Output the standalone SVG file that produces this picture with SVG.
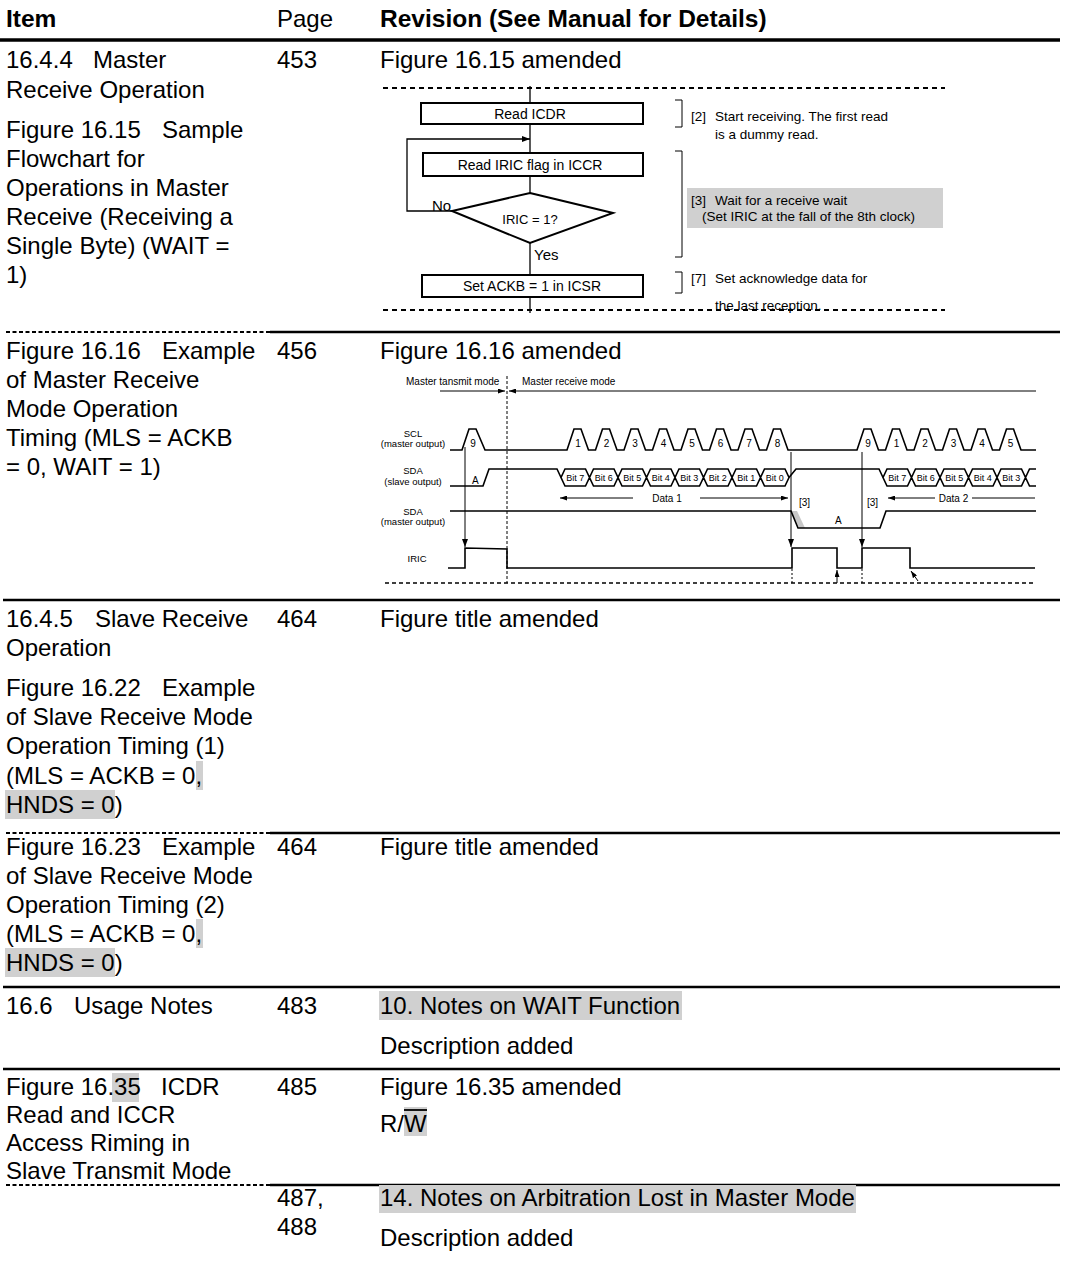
<svg xmlns="http://www.w3.org/2000/svg" width="1069" height="1278" viewBox="0 0 1069 1278">
<defs>
<marker id="ah" markerWidth="8" markerHeight="6" refX="8" refY="3" orient="auto" markerUnits="userSpaceOnUse"><path d="M0,0 L8,3 L0,6 Z" fill="#000"/></marker>
<marker id="ahs" markerWidth="7" markerHeight="5" refX="7" refY="2.5" orient="auto" markerUnits="userSpaceOnUse"><path d="M0,0 L7,2.5 L0,5 Z" fill="#000"/></marker>
<style>
.t{font-family:"Liberation Sans",Arial,sans-serif;font-size:24px;fill:#000}
.b{font-weight:bold}
.hl{fill:#d0d0d0}
.sep{stroke:#000;stroke-width:2.5}
.thick{stroke:#000;stroke-width:3.5}
.dsep{stroke:#000;stroke-width:2;stroke-dasharray:4 2.5}
.fb{fill:#fff;stroke:#000;stroke-width:2}
.ft{font-family:"Liberation Sans",Arial,sans-serif;font-size:14px;text-anchor:middle}
.fl{font-family:"Liberation Sans",Arial,sans-serif;font-size:15px}
.an{font-family:"Liberation Sans",Arial,sans-serif;font-size:13.5px}
.ln{stroke:#000;stroke-width:1.3;fill:none}
.fd{stroke:#000;stroke-width:2;stroke-dasharray:5 4}
.w{stroke:#000;stroke-width:1.6;fill:none}
.tl{font-family:"Liberation Sans",Arial,sans-serif;font-size:10px}
.tm{font-family:"Liberation Sans",Arial,sans-serif;font-size:9.5px;text-anchor:middle}
.num{font-family:"Liberation Sans",Arial,sans-serif;font-size:10px;text-anchor:middle}
.bit{font-family:"Liberation Sans",Arial,sans-serif;font-size:9px;text-anchor:middle}
.thin{stroke:#000;stroke-width:1;fill:none}
.td{stroke:#000;stroke-width:1.3;stroke-dasharray:4 3;fill:none}
</style>
</defs>
<rect width="1069" height="1278" fill="#fff"/>

<!-- table rules -->
<g id="table-rules">
<line class="thick" x1="0" y1="40" x2="1060" y2="40"/>
<line class="dsep" x1="6" y1="332" x2="270" y2="332"/><line class="sep" x1="270" y1="332" x2="1060" y2="332"/>
<line class="sep" x1="3" y1="600" x2="1060" y2="600"/>
<line class="dsep" x1="6" y1="833" x2="270" y2="833"/><line class="sep" x1="270" y1="833" x2="1060" y2="833"/>
<line class="sep" x1="3" y1="987" x2="1060" y2="987"/>
<line class="sep" x1="3" y1="1069" x2="1060" y2="1069"/>
<line class="dsep" x1="6" y1="1185" x2="270" y2="1185"/><line class="sep" x1="270" y1="1185" x2="1060" y2="1185"/>
</g>

<!-- highlights -->
<g id="highlights">
<rect class="hl" x="196" y="761" width="7" height="29"/>
<rect class="hl" x="5" y="790" width="110" height="29"/>
<rect class="hl" x="196" y="919" width="7" height="29"/>
<rect class="hl" x="5" y="948" width="110" height="29"/>
<rect class="hl" x="379" y="991" width="303" height="29"/>
<rect class="hl" x="112" y="1073" width="27" height="29"/>
<rect class="hl" x="404" y="1107" width="23" height="29"/>
<rect class="hl" x="379" y="1185" width="477" height="28"/>
</g>

<!-- header -->
<g id="header">
<text class="t b" x="6" y="27" style="font-size:24.5px">Item</text>
<text class="t" x="277" y="27">Page</text>
<text class="t b" x="380" y="27" style="font-size:24.5px">Revision (See Manual for Details)</text>
</g>

<!-- row 1 -->
<g id="row1">
<text class="t" x="6" y="68">16.4.4<tspan x="93">Master</tspan></text>
<text class="t" x="6" y="98">Receive Operation</text>
<text class="t" x="6" y="138">Figure 16.15<tspan x="162">Sample</tspan></text>
<text class="t" x="6" y="167">Flowchart for</text>
<text class="t" x="6" y="196">Operations in Master</text>
<text class="t" x="6" y="225">Receive (Receiving a</text>
<text class="t" x="6" y="254">Single Byte) (WAIT =</text>
<text class="t" x="6" y="283">1)</text>
<text class="t" x="277" y="68">453</text>
<text class="t" x="380" y="68">Figure 16.15 amended</text>
</g>

<!-- flowchart -->
<g id="flowchart">
<line class="fd" x1="383" y1="88" x2="945" y2="88"/>
<line class="fd" x1="383" y1="310" x2="945" y2="310"/>
<g id="fc-connectors">
<line class="ln" x1="530" y1="86" x2="530" y2="103"/>
<line class="ln" x1="530" y1="124" x2="530" y2="152"/>
<line class="ln" x1="530" y1="176" x2="530" y2="193"/>
<line class="ln" x1="530" y1="243" x2="530" y2="275"/>
<line class="ln" x1="530" y1="297" x2="530" y2="313"/>
<polyline class="ln" points="452,211 407,211 407,139 530,139" marker-end="url(#ah)"/>
</g>
<g id="fc-read-icdr"><rect class="fb" x="421" y="103" width="222" height="21"/><text class="ft" x="530" y="118.5">Read ICDR</text></g>
<g id="fc-read-iric"><rect class="fb" x="423" y="153" width="220" height="23"/><text class="ft" x="530" y="169.5">Read IRIC flag in ICCR</text></g>
<g id="fc-decision"><polygon class="fb" points="530,193 613,213 530,243 452,211"/><text class="ft" x="530" y="224" style="font-size:13px">IRIC = 1?</text></g>
<text class="fl" x="432" y="211">No</text>
<text class="fl" x="534" y="260">Yes</text>
<g id="fc-set-ackb"><rect class="fb" x="422" y="275" width="221" height="22"/><text class="ft" x="532" y="291">Set ACKB = 1 in ICSR</text></g>
<g id="fc-notes">
<rect class="hl" x="687" y="188" width="256" height="40"/>
<polyline class="thin" points="675,100 682,100 682,127 675,127"/>
<polyline class="thin" points="675,151 682,151 682,257 675,257"/>
<polyline class="thin" points="675,272 682,272 682,293 675,293"/>
<text class="an" x="691" y="121">[2]<tspan x="715">Start receiving. The first read</tspan></text>
<text class="an" x="715" y="139">is a dummy read.</text>
<text class="an" x="691" y="205">[3]<tspan x="715">Wait for a receive wait</tspan></text>
<text class="an" x="702" y="221">(Set IRIC at the fall of the 8th clock)</text>
<text class="an" x="691" y="283">[7]<tspan x="715">Set acknowledge data for</tspan></text>
<text class="an" x="715" y="310">the last reception.</text>
</g>
</g>

<!-- row 2 -->
<g id="row2">
<text class="t" x="6" y="359">Figure 16.16<tspan x="162">Example</tspan></text>
<text class="t" x="6" y="388">of Master Receive</text>
<text class="t" x="6" y="417">Mode Operation</text>
<text class="t" x="6" y="446">Timing (MLS = ACKB</text>
<text class="t" x="6" y="475">= 0, WAIT = 1)</text>
<text class="t" x="277" y="359">456</text>
<text class="t" x="380" y="359">Figure 16.16 amended</text>
</g>

<!-- timing diagram -->
<g id="timing">
<text class="tl" x="406" y="385">Master tansmit mode</text>
<text class="tl" x="522" y="385">Master receive mode</text>
<line class="thin" x1="440" y1="391" x2="505" y2="391" marker-end="url(#ahs)"/>
<line class="thin" x1="1036" y1="391" x2="509" y2="391" marker-end="url(#ahs)"/>
<line stroke="#000" stroke-width="1" stroke-dasharray="3 2" x1="507" y1="376" x2="507" y2="583"/>
<line class="td" x1="385" y1="583" x2="1036" y2="583"/>

<text class="tm" x="413" y="437">SCL</text>
<text class="tm" x="413" y="447">(master output)</text>
<text class="tm" x="413" y="474">SDA</text>
<text class="tm" x="413" y="485">(slave output)</text>
<text class="tm" x="413" y="515">SDA</text>
<text class="tm" x="413" y="525">(master output)</text>
<text class="tm" x="417" y="562">IRIC</text>

<!-- SCL -->
<path class="w" d="M450,450 L462,450 L469,429 L476,429 L485,450 L567,450 L574,429 L581,429 L588.5,450 L595.5,450 L602.5,429 L609.5,429 L617,450 L624,450 L631,429 L638,429 L645.5,450 L652.5,450 L659.5,429 L666.5,429 L674,450 L681,450 L688,429 L695,429 L702.5,450 L709.5,450 L716.5,429 L723.5,429 L731,450 L738,450 L745,429 L752,429 L759.5,450 L766.5,450 L773.5,429 L780.5,429 L788,450 L857,450 L864,429 L871,429 L878.5,450 L885.5,450 L892.5,429 L899.5,429 L907,450 L914,450 L921,429 L928,429 L935.5,450 L942.5,450 L949.5,429 L956.5,429 L964,450 L971,450 L978,429 L985,429 L992.5,450 L999.5,450 L1006.5,429 L1013.5,429 L1021,450 L1036,450"/>
<g class="num">
<text x="473" y="447">9</text>
<text x="578" y="447">1</text><text x="606.5" y="447">2</text><text x="635" y="447">3</text><text x="663.5" y="447">4</text><text x="692" y="447">5</text><text x="720.5" y="447">6</text><text x="749" y="447">7</text><text x="777.5" y="447">8</text>
<text x="868" y="447">9</text><text x="896.5" y="447">1</text><text x="925" y="447">2</text><text x="953.5" y="447">3</text><text x="982" y="447">4</text><text x="1010.5" y="447">5</text>
</g>

<!-- SDA slave -->
<path class="w" d="M450,486 L483,486 L489,469 L557,469 L561,477.5 M789,477.5 L796,469 L879,469 L883,477.5"/>
<path class="w" d="M561,477.5 L565,469 L585.5,469 L589.5,477.5 L585.5,486 L565,486Z M589.5,477.5 L593.5,469 L614,469 L618,477.5 L614,486 L593.5,486Z M618,477.5 L622,469 L642.5,469 L646.5,477.5 L642.5,486 L622,486Z M646.5,477.5 L650.5,469 L671,469 L675,477.5 L671,486 L650.5,486Z M675,477.5 L679,469 L699.5,469 L703.5,477.5 L699.5,486 L679,486Z M703.5,477.5 L707.5,469 L728,469 L732,477.5 L728,486 L707.5,486Z M732,477.5 L736,469 L756.5,469 L760.5,477.5 L756.5,486 L736,486Z M760.5,477.5 L764.5,469 L785,469 L789,477.5 L785,486 L764.5,486Z"/>
<path class="w" d="M883,477.5 L887,469 L907.5,469 L911.5,477.5 L907.5,486 L887,486Z M911.5,477.5 L915.5,469 L936,469 L940,477.5 L936,486 L915.5,486Z M940,477.5 L944,469 L964.5,469 L968.5,477.5 L964.5,486 L944,486Z M968.5,477.5 L972.5,469 L993,469 L997,477.5 L993,486 L972.5,486Z M997,477.5 L1001,469 L1021.5,469 L1025.5,477.5 L1021.5,486 L1001,486Z M1025.5,477.5 L1029.5,469 L1036,469 M1025.5,477.5 L1029.5,486 L1036,486"/>
<g class="bit">
<text x="575.25" y="481">Bit 7</text><text x="603.75" y="481">Bit 6</text><text x="632.25" y="481">Bit 5</text><text x="660.75" y="481">Bit 4</text><text x="689.25" y="481">Bit 3</text><text x="717.75" y="481">Bit 2</text><text x="746.25" y="481">Bit 1</text><text x="774.75" y="481">Bit 0</text>
<text x="897.25" y="481">Bit 7</text><text x="925.75" y="481">Bit 6</text><text x="954.25" y="481">Bit 5</text><text x="982.75" y="481">Bit 4</text><text x="1011.25" y="481">Bit 3</text>
</g>
<text class="tl" x="472" y="484">A</text>

<!-- Data arrows -->
<line class="thin" x1="633" y1="498" x2="560" y2="498" marker-end="url(#ahs)"/>
<text class="tl" x="667" y="502" text-anchor="middle">Data 1</text>
<line class="thin" x1="700" y1="498" x2="788" y2="498" marker-end="url(#ahs)"/>
<line class="thin" x1="935" y1="498" x2="888" y2="498" marker-end="url(#ahs)"/>
<text class="tl" x="953.5" y="502" text-anchor="middle">Data 2</text>
<line class="thin" x1="972" y1="498" x2="1035" y2="498"/>
<text class="tl" x="799" y="506">[3]</text>
<text class="tl" x="867" y="506">[3]</text>

<!-- SDA master -->
<polygon points="791,511 797,511 805,528 799,528" fill="#c8c8c8"/>
<path class="w" d="M450,511 L791,511 L798,528 L880,528 L886,511 L1036,511"/>
<text class="tl" x="835" y="524">A</text>

<!-- IRIC -->
<path class="w" d="M448,568 L465,568 L465,548 L507,549 L507,568 L792,568 L792,548 L837,548 L837,568 L862,568 L862,548 L910,548 L910,568 L1035,568"/>
<line class="thin" x1="465" y1="447" x2="465" y2="547" marker-end="url(#ah)"/>
<line class="thin" x1="791" y1="452" x2="791" y2="547" marker-end="url(#ah)"/>
<line class="thin" x1="862" y1="452" x2="862" y2="547" marker-end="url(#ah)"/>
<line stroke="#000" stroke-width="1" stroke-dasharray="2 2" x1="792" y1="569" x2="792" y2="583"/>
<line stroke="#000" stroke-width="1" stroke-dasharray="2 2" x1="862" y1="569" x2="862" y2="583"/>
<line class="thin" x1="837" y1="583" x2="837" y2="570" marker-end="url(#ahs)"/>
<line class="thin" x1="918" y1="581" x2="911" y2="571" marker-end="url(#ahs)"/>
</g>

<!-- row 3 -->
<g id="row3">
<text class="t" x="6" y="627">16.4.5<tspan x="95">Slave Receive</tspan></text>
<text class="t" x="6" y="656">Operation</text>
<text class="t" x="6" y="696">Figure 16.22<tspan x="162">Example</tspan></text>
<text class="t" x="6" y="725">of Slave Receive Mode</text>
<text class="t" x="6" y="754">Operation Timing (1)</text>
<text class="t" x="6" y="784">(MLS = ACKB = 0,</text>
<text class="t" x="6" y="813">HNDS = 0)</text>
<text class="t" x="277" y="627">464</text>
<text class="t" x="380" y="627">Figure title amended</text>
</g>

<!-- row 4 -->
<g id="row4">
<text class="t" x="6" y="855">Figure 16.23<tspan x="162">Example</tspan></text>
<text class="t" x="6" y="884">of Slave Receive Mode</text>
<text class="t" x="6" y="913">Operation Timing (2)</text>
<text class="t" x="6" y="942">(MLS = ACKB = 0,</text>
<text class="t" x="6" y="971">HNDS = 0)</text>
<text class="t" x="277" y="855">464</text>
<text class="t" x="380" y="855">Figure title amended</text>
</g>

<!-- row 5 -->
<g id="row5">
<text class="t" x="6" y="1014">16.6<tspan x="74">Usage Notes</tspan></text>
<text class="t" x="277" y="1014">483</text>
<text class="t" x="380" y="1014">10. Notes on WAIT Function</text>
<text class="t" x="380" y="1054">Description added</text>
</g>

<!-- row 6 -->
<g id="row6">
<text class="t" x="6" y="1095">Figure 16.35<tspan x="161">ICDR</tspan></text>
<text class="t" x="6" y="1123">Read and ICCR</text>
<text class="t" x="6" y="1151">Access Riming in</text>
<text class="t" x="6" y="1179">Slave Transmit Mode</text>
<text class="t" x="277" y="1095">485</text>
<text class="t" x="380" y="1095">Figure 16.35 amended</text>
<text class="t" x="380" y="1132">R/W</text>
<line stroke="#000" stroke-width="1.8" x1="404" y1="1110" x2="427" y2="1110"/>
</g>

<!-- row 7 -->
<g id="row7">
<text class="t" x="277" y="1206">487,</text>
<text class="t" x="277" y="1235">488</text>
<text class="t" x="380" y="1206">14. Notes on Arbitration Lost in Master Mode</text>
<text class="t" x="380" y="1246">Description added</text>
</g>
</svg>
